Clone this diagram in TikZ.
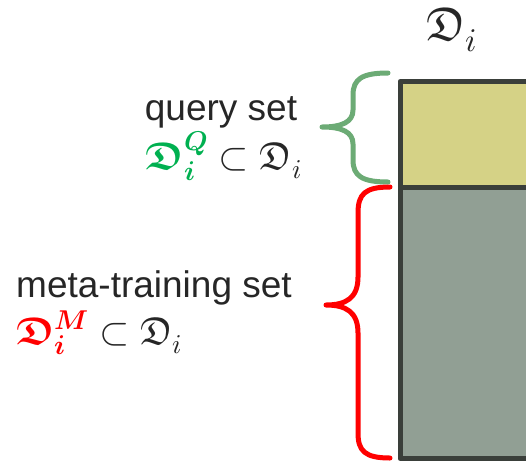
\documentclass[tikz,border=0pt]{standalone}
\usepackage{fontspec}
\usepackage{unicode-math}
\setmainfont{Liberation Sans}
\setmathfont{Latin Modern Math}[Scale=1.05]
\definecolor{frameclr}{HTML}{3A3F3A}
\definecolor{queryfill}{HTML}{D5D286}
\definecolor{trainfill}{HTML}{919F94}
\definecolor{bracegreen}{HTML}{6CAB75}
\definecolor{textgreen}{HTML}{00B050}
\definecolor{textdark}{HTML}{262626}
\tikzset{
  label/.style={inner sep=0pt, text=textdark, font=\fontsize{37}{44}\selectfont},
  partbox/.style={draw=frameclr, line width=5pt, line join=round},
  brace/.style={line width=5pt, line cap=round, line join=round},
}
\begin{document}
\begin{tikzpicture}[x=1pt, y=-1pt]
  \useasboundingbox (0,0) rectangle (526,461);
  \clip (0,0) rectangle (526,461);

  % the data set D_i, split into its two parts
  \draw[partbox, fill=trainfill] (400,187.5) rectangle (545,458.5);
  \draw[partbox, fill=queryfill] (400,81.5) rectangle (545,187.5);

  \node[label, font=\fontsize{45}{54}\selectfont, anchor=base] (dtitle) at (452,40) {$\mathfrak{D}_i$};

  % query set
  \node[label, anchor=base] (qname) at (221,120) {query set};
  \node[label, anchor=base] (qmath) at (224,169)
    {$\textcolor{textgreen}{\mathbffrak{D}_{\mathbfit{i}}^{\mathbfit{Q}}}\subset\mathfrak{D}_i$};
  \draw[brace, draw=bracegreen]
    (388,73) .. controls (362,73) and (353,79) .. (353,95)
    -- (353,110) .. controls (353,122) and (342,127) .. (322,127)
    .. controls (342,127) and (353,132) .. (353,144)
    -- (353,160) .. controls (353,176) and (362,182) .. (388,182);

  % meta-training set
  \node[label, anchor=base west] (mname) at (16,297) {meta-training set};
  \node[label, anchor=base west] (mmath) at (16,344)
    {$\textcolor{red}{\mathbffrak{D}_{\mathbfit{i}}^{\mathbfit{M}}}\subset\mathfrak{D}_i$};
  \draw[brace, draw=red]
    (390,187) .. controls (365,187) and (358,194) .. (358,213)
    -- (358,277) .. controls (358,298) and (346,305) .. (326,305)
    .. controls (346,305) and (358,312) .. (358,333)
    -- (358,433) .. controls (358,451) and (365,458) .. (390,458);
\end{tikzpicture}
\end{document}
